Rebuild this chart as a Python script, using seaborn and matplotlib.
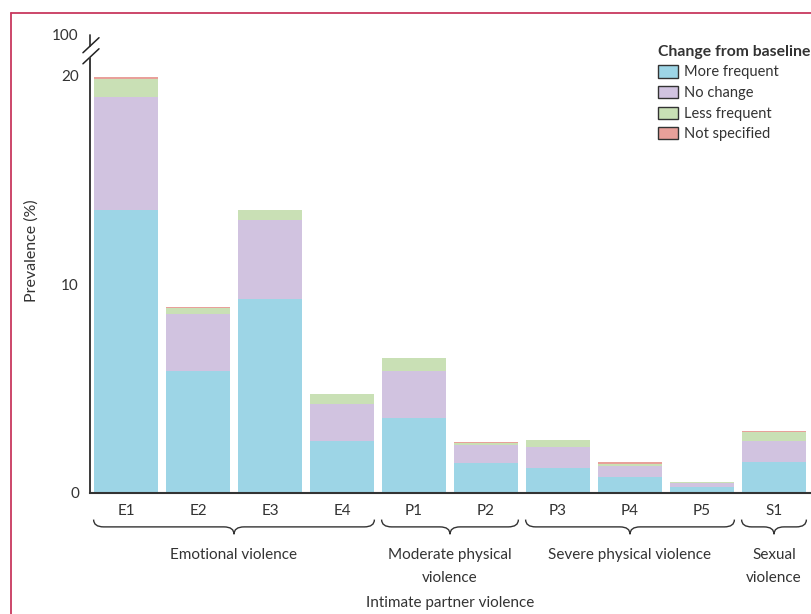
import matplotlib
matplotlib.use("Agg")
import matplotlib.pyplot as plt
import matplotlib.transforms as mtransforms
from matplotlib.patches import Patch, PathPatch
from matplotlib.path import Path
from matplotlib.lines import Line2D
import seaborn as sns
import numpy as np

# ==========================================
# 数据
# ==========================================
categories = ["E1", "E2", "E3", "E4", "P1", "P2", "P3", "P4", "P5", "S1"]
more_frequent = [13.55, 5.84, 9.28, 2.49, 3.59, 1.42, 1.20, 0.77, 0.29, 1.48]
no_change = [5.45, 2.72, 3.78, 1.77, 2.25, 0.88, 1.00, 0.52, 0.19, 1.01]
less_frequent = [0.86, 0.29, 0.48, 0.48, 0.62, 0.09, 0.34, 0.11, 0.05, 0.43]
not_specified = [0.06, 0.05, 0.0, 0.0, 0.0, 0.05, 0.0, 0.08, 0.0, 0.06]

series_names = ["More frequent", "No change", "Less frequent", "Not specified"]
series_colors = ["#9dd5e6", "#d1c3e0", "#c9e0b5", "#e8a09a"]

groups = ["Emotional violence", "Moderate physical\nviolence",
          "Severe physical violence", "Sexual\nviolence"]
group_members = [["E1", "E2", "E3", "E4"], ["P1", "P2"],
                 ["P3", "P4", "P5"], ["S1"]]
outer_label = "Intimate partner violence"

ytick_values = [0, 10, 20]
ytick_break_label = "100"

TEXT = "#333333"

sns.set_theme(style="white")
plt.rcParams["font.family"] = ["Lato", "DejaVu Sans"]
plt.rcParams["text.color"] = TEXT
plt.rcParams["axes.labelcolor"] = TEXT
plt.rcParams["xtick.color"] = TEXT
plt.rcParams["ytick.color"] = TEXT

fig = plt.figure(figsize=(8.11, 6.14), dpi=100)
ax = fig.add_axes([90 / 811, 1 - 493 / 614, 720 / 811, 458 / 614])

# 累计高度，从最高的开始画，下面的层盖住上面
layers = np.array([more_frequent, no_change, less_frequent, not_specified])
tops = np.cumsum(layers, axis=0)
for i in range(3, -1, -1):
    sns.barplot(x=categories, y=tops[i], color=series_colors[i], width=0.9,
                saturation=1, linewidth=0, ax=ax)

top_val = 21.95
ax.set_xlim(-0.5, len(categories) - 0.5)
ax.set_ylim(0, top_val)

# y 轴（带断轴）
ax.set_yticks(ytick_values + [top_val])
ax.set_yticklabels([str(v) for v in ytick_values] + [ytick_break_label], fontsize=11)
ax.tick_params(axis="y", length=6, width=1.3, pad=2)
ax.spines["left"].set_bounds(0, 20.85)
ax.spines["left"].set_linewidth(1.4)
ax.spines["left"].set_color("#3a3a3a")
ax.plot([0, 0], [21.4, top_val], transform=ax.get_yaxis_transform(),
        color="#3a3a3a", lw=1.3, clip_on=False)
for y0, y1 in [(20.57, 21.29), (21.10, 21.82)]:
    ax.plot([-0.0098, 0.0125], [y0, y1], transform=ax.get_yaxis_transform(),
            color="#222222", lw=1.1, clip_on=False)
ax.set_ylabel("Prevalence (%)", fontsize=11.5)
ax.yaxis.set_label_coords(-0.071, 0.53)

# x 轴
ax.set_xticks(range(len(categories)))
ax.set_xticklabels(categories, fontsize=11)
ax.set_xticks(np.arange(-0.5, len(categories)), minor=True)
ax.tick_params(axis="x", which="major", length=0, pad=8)
ax.tick_params(axis="x", which="minor", length=5, width=1.2, color="#444444")
ax.spines["bottom"].set_linewidth(1.5)
ax.spines["bottom"].set_color("#333333")
for s in ["top", "right"]:
    ax.spines[s].set_visible(False)
ax.set_xlabel("")

# 分组大括号
trans = mtransforms.blended_transform_factory(ax.transData, ax.transAxes)


def draw_brace(x0, x1, yt=-0.058, ym=-0.074, yb=-0.090, r=0.14):
    xc = (x0 + x1) / 2
    verts = [(x0, yt), (x0, ym), (x0 + r, ym), (xc - r, ym), (xc, ym), (xc, yb),
             (xc, ym), (xc + r, ym), (x1 - r, ym), (x1, ym), (x1, yt)]
    codes = [Path.MOVETO, Path.CURVE3, Path.CURVE3, Path.LINETO, Path.CURVE3,
             Path.CURVE3, Path.CURVE3, Path.CURVE3, Path.LINETO, Path.CURVE3,
             Path.CURVE3]
    ax.add_patch(PathPatch(Path(verts, codes), fill=False, edgecolor="#333333",
                           lw=1.0, transform=trans, clip_on=False))


for name, members in zip(groups, group_members):
    idx = [categories.index(m) for m in members]
    x0, x1 = min(idx) - 0.45, max(idx) + 0.45
    draw_brace(x0, x1)
    ax.text((x0 + x1) / 2, -0.121, name, transform=trans, ha="center", va="top",
            fontsize=11, linespacing=1.75)

ax.text(4.5, -0.240, outer_label, transform=trans, ha="center", va="center",
        fontsize=11)

# 图例
handles = [Patch(facecolor=c, edgecolor="#333333", linewidth=1.0, label=n)
           for n, c in zip(series_names, series_colors)]
leg = fig.legend(handles=handles, title="Change from baseline", loc="upper left",
                 bbox_to_anchor=(652 / 811, 1 - 39 / 614), frameon=False,
                 fontsize=10.5, title_fontproperties={"weight": "bold", "size": 11.3},
                 alignment="left", handlelength=1.4, handleheight=0.9,
                 handletextpad=0.4, labelspacing=0.45, borderaxespad=0)

# 外框线
fig.add_artist(Line2D([11 / 811, 1], [1 - 13 / 614, 1 - 13 / 614], color="#c8385e", lw=1.3))
fig.add_artist(Line2D([11 / 811, 11 / 811], [0, 1 - 13 / 614], color="#c8385e", lw=1.3))

plt.savefig("out.png", dpi=100)
plt.close()
